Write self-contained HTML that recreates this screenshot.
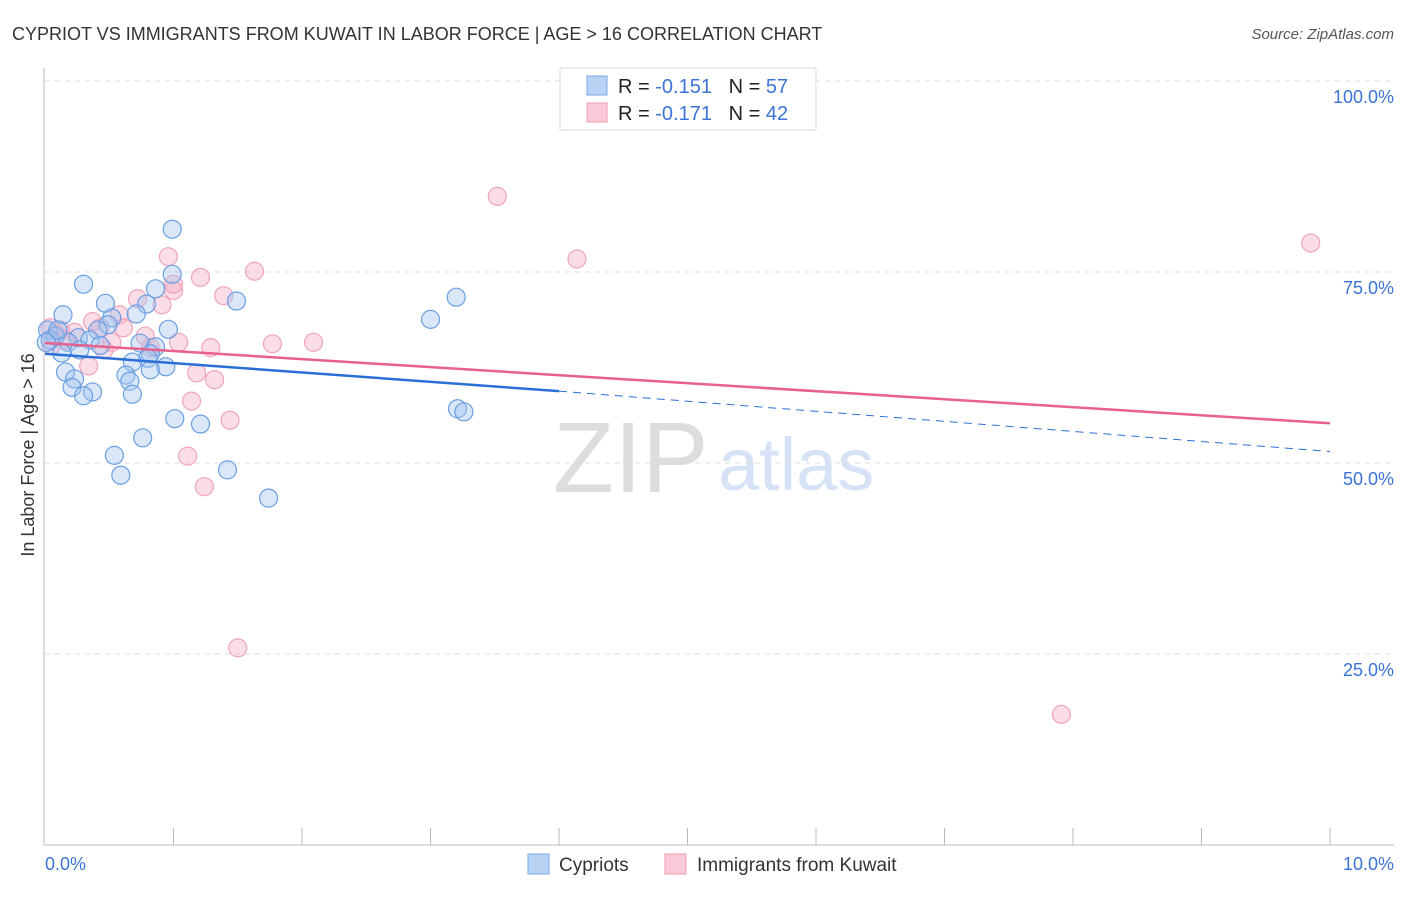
<!DOCTYPE html>
<html><head><meta charset="utf-8"><style>
body{margin:0;background:#fff;font-family:"Liberation Sans",sans-serif;}
svg text{font-family:"Liberation Sans",sans-serif;}
</style></head><body>
<svg id="c" width="1406" height="892" xmlns="http://www.w3.org/2000/svg">
<text x="12" y="40" font-size="18" fill="#333">CYPRIOT VS IMMIGRANTS FROM KUWAIT IN LABOR FORCE | AGE &gt; 16 CORRELATION CHART</text>
<text x="1394" y="39" font-size="15" fill="#555" text-anchor="end" font-style="italic">Source: ZipAtlas.com</text>
<text x="34" y="455" font-size="18" fill="#333" text-anchor="middle" transform="rotate(-90 34 455)">In Labor Force | Age &gt; 16</text>
<text x="553" y="492" font-size="100" fill="#ddd" font-family="Liberation Serif">ZIP</text>
<text x="718" y="490" font-size="74" fill="#d6e2f5">atlas</text>
<g id="grid"></g><g id="pts"></g><g id="lines"></g>
<g>
<rect x="560" y="68" width="256" height="62" fill="#fff" stroke="#ddd"/>
<rect x="587" y="76" width="20" height="19" fill="#b9d3f5" stroke="#7aa7e6"/>
<rect x="587" y="103" width="20" height="19" fill="#f9c9d7" stroke="#ee9ab3"/>
<text x="618" y="93" font-size="20" fill="#222" xml:space="preserve">R = <tspan fill="#3b73d6">-0.151</tspan>   N = <tspan fill="#3b73d6">57</tspan></text>
<text x="618" y="120" font-size="20" fill="#222" xml:space="preserve">R = <tspan fill="#3b73d6">-0.171</tspan>   N = <tspan fill="#3b73d6">42</tspan></text>
</g>
<g>
<rect x="528" y="854" width="21" height="20" fill="#b9d3f5" stroke="#7aa7e6"/>
<text x="559" y="871" font-size="19" fill="#333">Cypriots</text>
<rect x="665" y="854" width="21" height="20" fill="#f9c9d7" stroke="#ee9ab3"/>
<text x="697" y="871" font-size="19" fill="#333">Immigrants from Kuwait</text>
</g>
<text x="45" y="870" font-size="18" fill="#3b73d6">0.0%</text>
<text x="1394" y="870" font-size="18" fill="#3b73d6" text-anchor="end">10.0%</text>
</svg>
<script>
const yTicks=[25,50,75,100];
const blueX=[0.99,0.30,0.99,0.86,0.47,0.79,1.49,3.20,3.00,0.14,0.71,0.52,0.49,0.96,0.41,0.02,0.08,0.26,0.35,0.18,0.43,0.74,0.86,0.82,0.80,0.13,0.27,0.68,0.94,0.82,0.16,0.63,0.23,0.66,0.21,0.37,0.30,0.68,1.01,1.21,0.76,0.54,1.42,0.59,1.74,3.21,3.26,0.04,0.10,0.01];
const blueY=[80.6,73.4,74.7,72.8,70.9,70.8,71.2,71.7,68.8,69.4,69.5,69.0,68.1,67.5,67.4,67.4,66.6,66.4,66.1,65.8,65.4,65.7,65.2,64.3,63.7,64.4,64.8,63.2,62.6,62.2,61.9,61.5,61.0,60.7,59.9,59.3,58.8,59.0,55.8,55.1,53.3,51.0,49.1,48.4,45.4,57.1,56.7,66.1,67.4,65.8];
const pinkX=[3.52,4.14,9.85,0.96,1.63,1.21,1.00,1.00,1.39,0.72,0.91,0.58,0.37,0.61,0.78,0.12,0.23,0.04,1.04,1.29,1.77,2.09,0.52,0.46,0.82,0.34,1.18,1.32,1.14,1.44,1.11,1.24,1.50,7.91,0.16,0.43,0.09,0.05];
const pinkY=[84.9,76.7,78.8,77.0,75.1,74.3,73.4,72.6,71.9,71.5,70.7,69.4,68.5,67.7,66.6,67.4,67.1,67.7,65.8,65.1,65.6,65.8,65.8,64.8,65.1,62.7,61.8,60.9,58.1,55.6,50.9,46.9,25.8,17.1,66.1,67.7,66.8,65.4];
const blueTrendX=[0,4.0,10];
const blueTrend=[64.3,59.4,51.5];
const pinkTrend=[65.7,55.2];
const NS='http://www.w3.org/2000/svg';
const sx=v=>45+v*128.5, sy=v=>845-v*7.64;
function mk(t,a,p){const e=document.createElementNS(NS,t);for(const k in a)e.setAttribute(k,a[k]);p.appendChild(e);return e;}
const grid=document.getElementById('grid');
mk('line',{x1:44,y1:68,x2:44,y2:845,stroke:'#bbb'},grid);
mk('line',{x1:44,y1:845,x2:1394,y2:845,stroke:'#bbb'},grid);
for(let i=1;i<=10;i++){mk('line',{x1:sx(i),y1:828,x2:sx(i),y2:845,stroke:'#bbb'},grid);}
yTicks.forEach(t=>{
 const l=mk('line',{x1:45,y1:sy(t),x2:1394,y2:sy(t),stroke:'#ddd','stroke-dasharray':'5,5'},grid);
 
 
 const tx=mk('text',{x:1394,y:sy(t)+22,'font-size':18,fill:'#3b73d6','text-anchor':'end'},grid);
 tx.textContent=t.toFixed(1)+'%';
 
 
});
const pts=document.getElementById('pts');
pinkX.forEach((x,i)=>{const c=mk('circle',{cx:sx(x),cy:sy(pinkY[i]),r:9,fill:'rgba(245,170,195,0.4)',stroke:'#f0a5bc','stroke-width':1.2},pts);
 
 });
blueX.forEach((x,i)=>{const c=mk('circle',{cx:sx(x),cy:sy(blueY[i]),r:9,fill:'rgba(160,195,240,0.4)',stroke:'#6b9fe3','stroke-width':1.2},pts);
 
 });
const lines=document.getElementById('lines');
const l1=mk('line',{x1:sx(blueTrendX[0]),y1:sy(blueTrend[0]),x2:sx(blueTrendX[1]),y2:sy(blueTrend[1]),stroke:'#2a6fd6','stroke-width':2.5},lines);


const l2=mk('line',{x1:sx(blueTrendX[1]),y1:sy(blueTrend[1]),x2:sx(blueTrendX[2]),y2:sy(blueTrend[2]),stroke:'#2a6fd6','stroke-width':1,'stroke-dasharray':'8,6'},lines);


const l3=mk('line',{x1:sx(0),y1:sy(pinkTrend[0]),x2:sx(10),y2:sy(pinkTrend[1]),stroke:'#e8608c','stroke-width':2.5},lines);


</script>
</body></html>
